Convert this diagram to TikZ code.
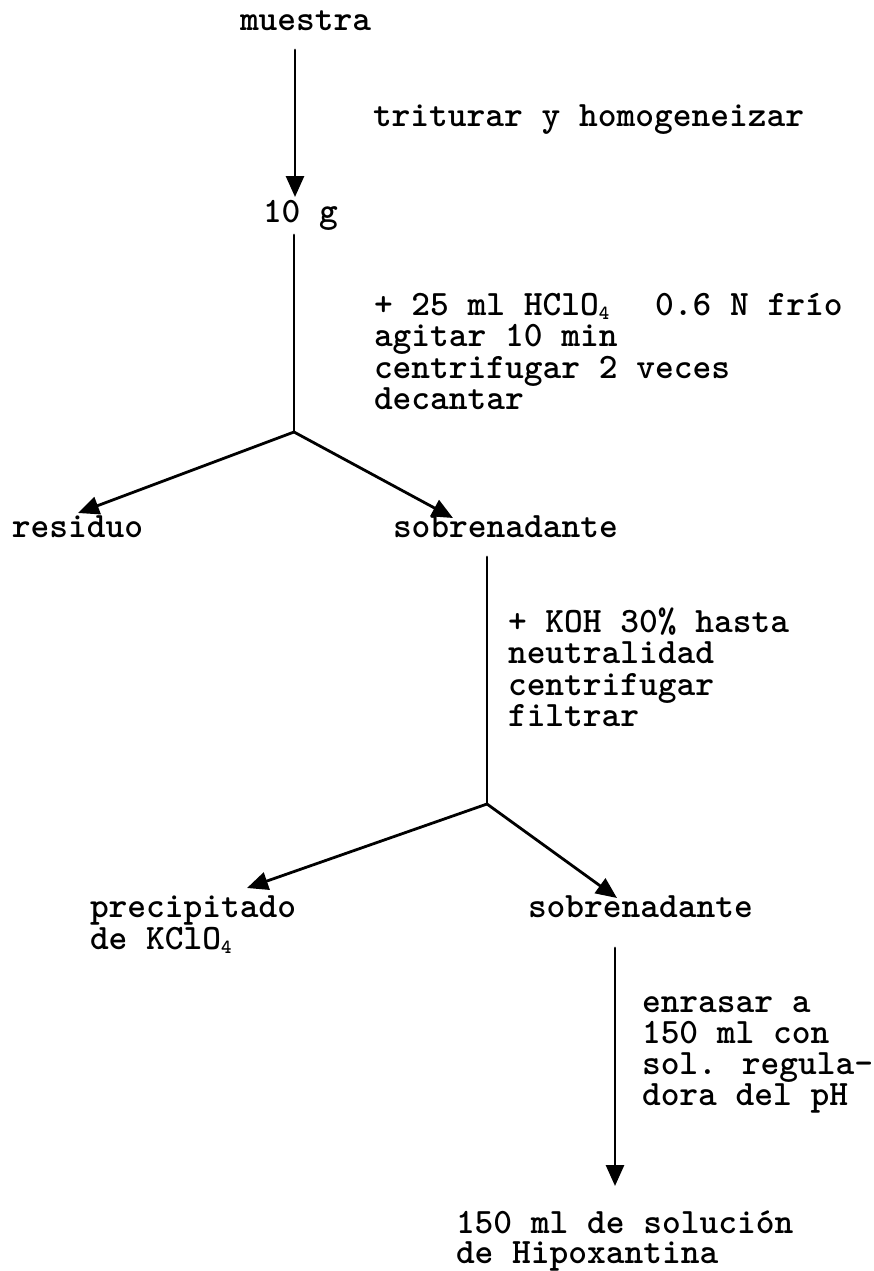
\documentclass[tikz,border=0pt]{standalone}
\usepackage{fontspec}
\usetikzlibrary{arrows.meta}
\newcommand\sbq[1]{\makebox[0.525em][l]{\raisebox{-0.12em}{\fontsize{20}{20}\selectfont #1}}}
\begin{document}
\begin{tikzpicture}[x=1pt,y=-1pt,
  txt/.style={anchor=base west,inner sep=0pt,outer sep=0pt,
    font=\ttfamily\bfseries\fontsize{35.7}{31.5}\selectfont},
  ln/.style={line width=2.8pt,line cap=round,line join=round},
  arr/.style={ln,-{Triangle[length=21pt,width=18pt]}}]
\fill[white] (0,0) rectangle (873,1271);
\useasboundingbox (0,0) rectangle (873,1271);

% texts
\node[txt] (muestra) at (240,31) {muestra};
\node[txt] (trit) at (373,127) {triturar y homogeneizar};
\node[txt] (diezg) at (263,222) {10 g};
\node[txt] (paso1) at (374,315) {\vtop{\baselineskip=31.5pt\lineskiplimit=-100pt
  \hbox{+ 25 ml HClO\sbq{4}\ \ 0.6 N frío}\hbox{agitar 10 min}\hbox{centrifugar 2 veces}\hbox{decantar}}};
\node[txt] (residuo) at (12,537) {residuo};
\node[txt] (sobre1) at (393,537) {sobrenadante};
\node[txt] (paso2) at (508,632) {\vtop{\baselineskip=31.5pt\lineskiplimit=-100pt
  \hbox{+ KOH 30\% hasta}\hbox{neutralidad}\hbox{centrifugar}\hbox{filtrar}}};
\node[txt] (precip) at (90,917) {\vtop{\baselineskip=32pt\lineskiplimit=-100pt
  \hbox{precipitado}\hbox{de KClO\sbq{4}}}};
\node[txt] (sobre2) at (528,917) {sobrenadante};
\node[txt] (paso3) at (642,1012) {\vtop{\baselineskip=31pt\lineskiplimit=-100pt
  \hbox{enrasar a}\hbox{150 ml con}\hbox{sol. regula-}\hbox{dora del pH}}};
\node[txt] (final) at (456,1233) {\vtop{\baselineskip=30.5pt\lineskiplimit=-100pt
  \hbox{150 ml de solución}\hbox{de Hipoxantina}}};

% connector points
\coordinate (a0) at (295,50);
\coordinate (a1) at (295,197);
\coordinate (b0) at (294,235);
\coordinate (b1) at (294,432);
\coordinate (r1) at (78,513);
\coordinate (s1) at (453,518);
\coordinate (c0) at (487,557);
\coordinate (c1) at (487,804);
\coordinate (p2) at (247,888);
\coordinate (s2) at (617,898);
\coordinate (d0) at (615,948);
\coordinate (d1) at (615,1186);

% connectors
\draw[arr] (a0) -- (a1);
\draw[ln] (b0) -- (b1);
\draw[arr] (b1) -- (r1);
\draw[arr] (b1) -- (s1);
\draw[ln] (c0) -- (c1);
\draw[arr] (c1) -- (p2);
\draw[arr] (c1) -- (s2);
\draw[arr] (d0) -- (d1);
\end{tikzpicture}
\end{document}
